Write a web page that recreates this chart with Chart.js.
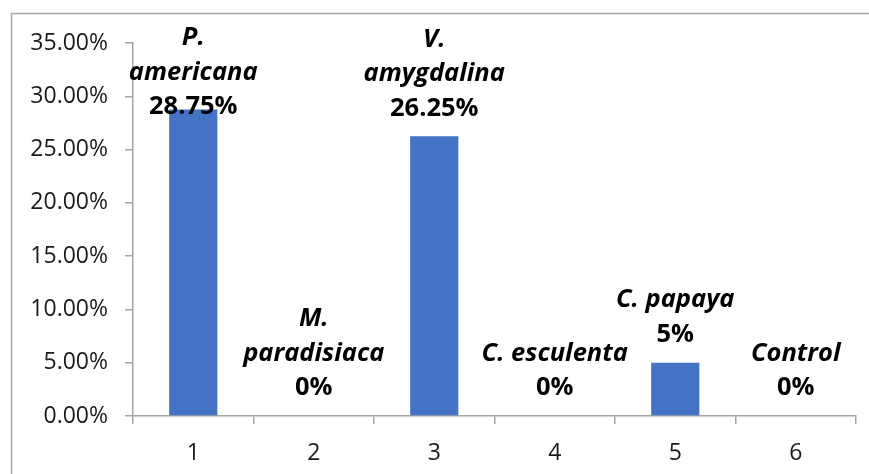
<!DOCTYPE html>
<html>
<head>
<meta charset="utf-8">
<script src="https://cdn.jsdelivr.net/npm/chart.js@4/dist/chart.umd.min.js"></script>
<style>
  html, body { margin: 0; padding: 0; background: #ffffff; }
  #wrap { width: 869px; height: 474px; position: relative; }
</style>
</head>
<body>
<div id="wrap"><canvas id="c" width="869" height="474"></canvas></div>
<script>
// Categories on the x axis
const categories = ['1', '2', '3', '4', '5', '6'];
// Percentage for each treatment
const values = [28.75, 0, 26.25, 0, 5, 0];
// Treatment names, split into the lines they are printed on
const nameLines = [
  ['P.', 'americana'],
  ['M.', 'paradisiaca'],
  ['V.', 'amygdalina'],
  ['C. esculenta'],
  ['C. papaya'],
  ['Control']
];
// Y axis tick values
const yTicks = [0, 5, 10, 15, 20, 25, 30, 35];

const AXIS_GRAY = '#a6a6a6';
const FONT = '"Open Sans", "Liberation Sans", sans-serif';

// Outer frame of the chart
const framePlugin = {
  id: 'frame',
  beforeDraw(chart) {
    const ctx = chart.ctx;
    ctx.save();
    ctx.strokeStyle = AXIS_GRAY;
    ctx.lineWidth = 1.5;
    ctx.beginPath();
    ctx.moveTo(11.5, chart.height + 2);
    ctx.lineTo(11.5, 13.5);
    ctx.lineTo(chart.width + 2, 13.5);
    ctx.stroke();
    ctx.restore();
  }
};

// Name + value labels above each bar
const valueLabelPlugin = {
  id: 'valueLabels',
  afterDatasetsDraw(chart) {
    const ctx = chart.ctx;
    const meta = chart.getDatasetMeta(0);
    const area = chart.chartArea;
    const lineH = 34.5;
    ctx.save();
    ctx.fillStyle = '#000000';
    ctx.textAlign = 'center';
    ctx.textBaseline = 'middle';
    meta.data.forEach((bar, i) => {
      const lines = nameLines[i].map(t => ({ text: t, italic: true }));
      lines.push({ text: values[i] + '%', italic: false });
      let last = bar.y - 28;
      let first = last - lineH * (lines.length - 1);
      const minFirst = area.top - 5;
      if (first < minFirst) { last += minFirst - first; first = minFirst; }
      lines.forEach((ln, k) => {
        ctx.font = (ln.italic ? 'italic ' : '') + 'bold 25.5px ' + FONT;
        ctx.fillText(ln.text, bar.x, first + k * lineH);
      });
    });
    ctx.restore();
  }
};

new Chart(document.getElementById('c'), {
  type: 'bar',
  data: {
    labels: categories,
    datasets: [{
      data: values,
      backgroundColor: '#4472C4',
      borderWidth: 0,
      categoryPercentage: 1.0,
      barPercentage: 0.4
    }]
  },
  options: {
    responsive: false,
    animation: false,
    devicePixelRatio: 1,
    layout: { padding: { left: 0, top: 43, right: 13, bottom: 0 } },
    plugins: {
      legend: { display: false },
      tooltip: { enabled: false }
    },
    scales: {
      x: {
        afterFit(scale) { scale.height = 58; },
        grid: {
          display: true,
          drawOnChartArea: false,
          drawTicks: true,
          tickLength: 8,
          offset: true,
          color: AXIS_GRAY,
          lineWidth: 1.5
        },
        border: { display: true, color: AXIS_GRAY, width: 1.5 },
        ticks: {
          color: '#1a1a1a',
          font: { family: FONT, size: 23 },
          padding: 16,
          maxRotation: 0
        }
      },
      y: {
        min: 0,
        max: 35,
        afterFit(scale) { scale.width = 133; },
        afterBuildTicks(scale) { scale.ticks = yTicks.map(v => ({ value: v })); },
        grid: {
          display: true,
          drawOnChartArea: false,
          drawTicks: true,
          tickLength: 8,
          color: AXIS_GRAY,
          lineWidth: 1.5
        },
        border: { display: true, color: AXIS_GRAY, width: 1.5 },
        ticks: {
          color: '#1a1a1a',
          font: { family: FONT, size: 23 },
          padding: 17,
          callback: v => v.toFixed(2) + '%'
        }
      }
    }
  },
  plugins: [framePlugin, valueLabelPlugin]
});
</script>
</body>
</html>
